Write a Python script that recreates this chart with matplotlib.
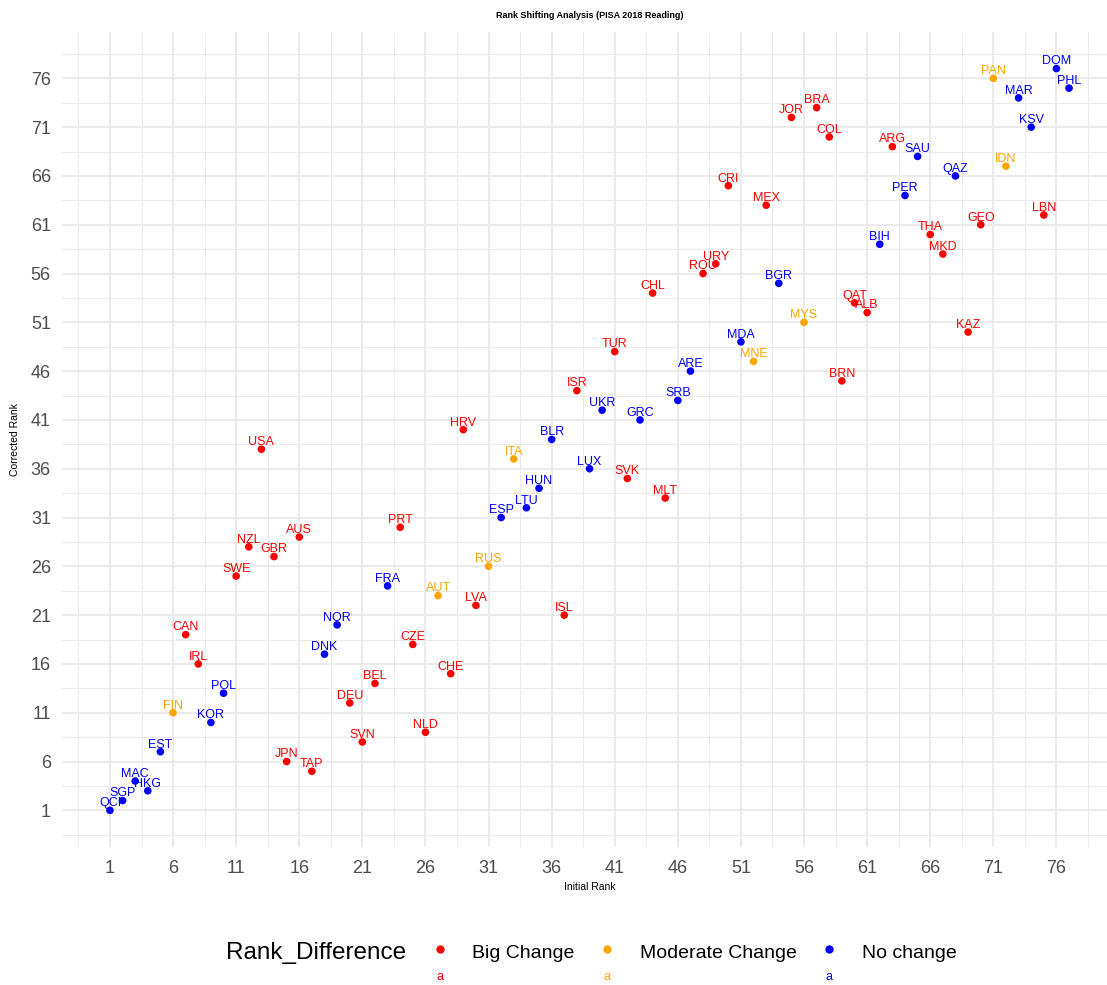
import matplotlib
matplotlib.use("Agg")
import matplotlib.pyplot as plt
from matplotlib.ticker import FixedLocator

plt.rcParams['font.family'] = ['Liberation Sans', 'DejaVu Sans']

countries = ["QCI", "SGP", "MAC", "HKG", "EST", "FIN", "CAN", "IRL", "KOR", "POL",
             "SWE", "NZL", "USA", "GBR", "JPN", "AUS", "TAP", "DNK", "NOR", "DEU",
             "SVN", "BEL", "FRA", "PRT", "CZE", "NLD", "AUT", "CHE", "HRV", "LVA",
             "RUS", "ESP", "ITA", "LTU", "HUN", "BLR", "ISL", "ISR", "LUX", "UKR",
             "TUR", "SVK", "GRC", "CHL", "MLT", "SRB", "ARE", "ROU", "URY", "CRI",
             "MDA", "MNE", "MEX", "BGR", "JOR", "MYS", "BRA", "COL", "BRN", "QAT",
             "ALB", "BIH", "ARG", "PER", "SAU", "THA", "MKD", "QAZ", "KAZ", "GEO",
             "PAN", "IDN", "MAR", "KSV", "LBN", "DOM", "PHL"]
initial_rank = list(range(1, 78))
corrected_rank = [1, 2, 4, 3, 7, 11, 19, 16, 10, 13,
                  25, 28, 38, 27, 6, 29, 5, 17, 20, 12,
                  8, 14, 24, 30, 18, 9, 23, 15, 40, 22,
                  26, 31, 37, 32, 34, 39, 21, 44, 36, 42,
                  48, 35, 41, 54, 33, 43, 46, 56, 57, 65,
                  49, 47, 63, 55, 72, 51, 73, 70, 45, 53,
                  52, 59, 69, 64, 68, 60, 58, 66, 50, 61,
                  76, 67, 74, 71, 62, 77, 75]
categories = ["Big Change", "Moderate Change", "No change"]
cat_colors = {"Big Change": "#FF0000", "Moderate Change": "#FFA500", "No change": "#0000FF"}
group = ["N", "N", "N", "N", "N", "M", "B", "B", "N", "N",
         "B", "B", "B", "B", "B", "B", "B", "N", "N", "B",
         "B", "B", "N", "B", "B", "B", "M", "B", "B", "B",
         "M", "N", "M", "N", "N", "N", "B", "B", "N", "N",
         "B", "B", "N", "B", "B", "N", "N", "B", "B", "B",
         "N", "M", "B", "N", "B", "M", "B", "B", "B", "B",
         "B", "N", "B", "N", "N", "B", "B", "N", "B", "B",
         "M", "M", "N", "N", "B", "N", "N"]
code_map = {"B": "Big Change", "M": "Moderate Change", "N": "No change"}
ticks = list(range(1, 77, 5))

W, H = 1107, 985
fig = plt.figure(figsize=(W / 100, H / 100), dpi=100)

def fx(px):
    return px / W

def fy(py):
    return 1 - py / H

left, right, top, bottom = 62, 1117, 31.5, 847.4
ax = fig.add_axes([fx(left), fy(bottom), (right - left) / W, (bottom - top) / H])
ax.set_xlim(-2.8, 80.8)
ax.set_ylim(-2.8, 80.8)
for s in ax.spines.values():
    s.set_visible(False)
ax.xaxis.set_major_locator(FixedLocator(ticks))
ax.yaxis.set_major_locator(FixedLocator(ticks))
minor = [t - 2.5 for t in ticks] + [ticks[-1] + 2.5]
ax.xaxis.set_minor_locator(FixedLocator(minor))
ax.yaxis.set_minor_locator(FixedLocator(minor))
ax.grid(which='major', color='#EBEBEB', linewidth=1.5, zorder=0)
ax.grid(which='minor', color='#EBEBEB', linewidth=0.8, zorder=0)
ax.set_axisbelow(True)
ax.tick_params(which='both', length=0)
ax.tick_params(axis='x', labelsize=13, labelcolor='#4D4D4D', pad=9)
ax.tick_params(axis='y', labelsize=13, labelcolor='#4D4D4D', pad=8)

cols = [cat_colors[code_map[g]] for g in group]
ax.scatter(initial_rank, corrected_rank, s=30, c=cols, linewidths=0, zorder=3)
for name, x, y, c in zip(countries, initial_rank, corrected_rank, cols):
    ax.annotate(name, (x, y), xytext=(0, 3), textcoords='offset points',
                ha='center', va='baseline', fontsize=9, color=c, zorder=4)

fig.text(fx(589.5), fy(15), "Rank Shifting Analysis (PISA 2018 Reading)",
         ha='center', va='center', fontsize=6.5, fontweight='bold')
fig.text(fx(589.5), fy(886.7), "Initial Rank", ha='center', va='center', fontsize=7.5)
fig.text(fx(15), fy(439.5), "Corrected Rank", ha='center', va='center',
         fontsize=7.5, rotation=90)

# legend
fig.text(fx(226), fy(951), "Rank_Difference", ha='left', va='center_baseline', fontsize=17.5)
dot_x = [440, 607, 829]
lab_x = [472, 640, 861.5]
for cat, dx, lx in zip(categories, dot_x, lab_x):
    col = cat_colors[cat]
    fig.lines.append(plt.Line2D([fx(dx)], [fy(949)], marker='o', markersize=6,
                                color=col, markeredgewidth=0, linestyle='none',
                                transform=fig.transFigure))
    fig.text(fx(dx), fy(977), "a", ha='center', va='center', fontsize=9, color=col)
    fig.text(fx(lx), fy(951), cat, ha='left', va='center_baseline', fontsize=14, color='black')

fig.savefig("out.png", dpi=100)
